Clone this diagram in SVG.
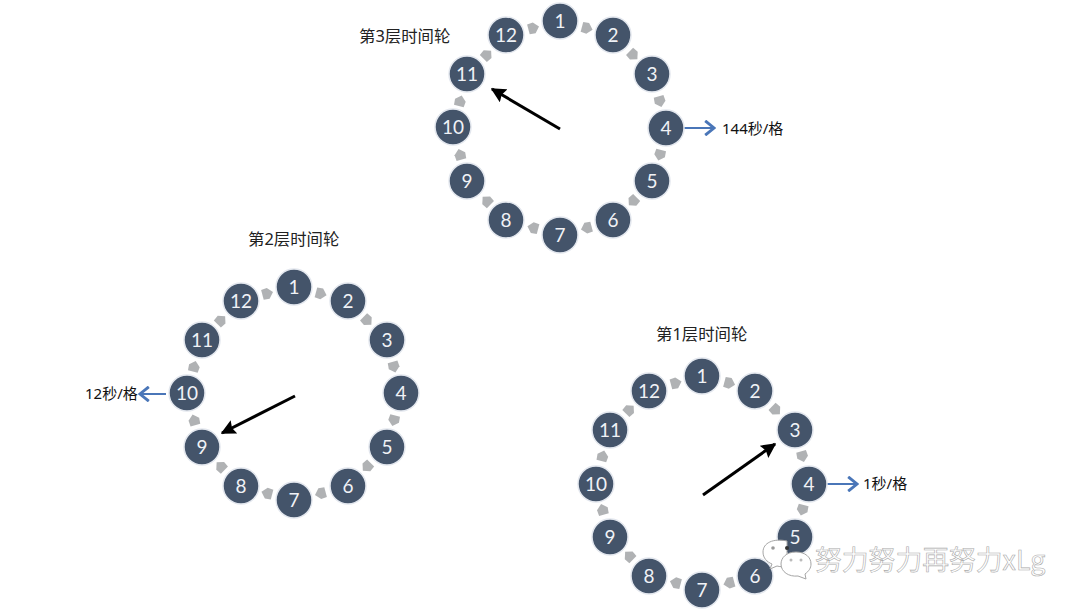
<svg xmlns="http://www.w3.org/2000/svg" xmlns:xlink="http://www.w3.org/1999/xlink" width="1080" height="611" viewBox="0 0 1080 611">
<style>
.n{fill:#44546a;stroke:#e3e7ee;stroke-width:1.500}
.t{fill:#f0f2f6;font:19px Lato,"Noto Sans",sans-serif;text-anchor:middle;dominant-baseline:central}
.l{fill:#111;font:15px "Noto Sans","Noto Sans CJK SC",sans-serif}
.c{fill:#222;font:16.4px "Noto Sans","Noto Sans CJK SC",sans-serif}
.h{stroke:#000;stroke-width:3;fill:none;marker-end:url(#bk)}
.b{stroke:#4a76b8;stroke-width:2;fill:none;marker-end:url(#bl)}
.wm{fill:#fff;stroke:#aaa;stroke-width:.6;font:26.800px "Noto Sans CJK SC","Noto Sans",sans-serif}
.bub{fill:#fff;stroke:#a5a5a5;stroke-width:1}
</style>
<defs>
<marker id="bk" viewBox="0 0 10 10" refX="9" refY="5" markerWidth="5" markerHeight="5" orient="auto"><path d="M0 0L10 5L0 10L1.500 5Z" fill="#000"/></marker>
<marker id="bl" viewBox="0 0 10 10" refX="9" refY="5" markerWidth="8" markerHeight="8" orient="auto"><path d="M3.500 0.500L9 5L3.500 9.500" fill="none" stroke="#4a76b8" stroke-width="1.800"/></marker>
<path id="a" d="M-5 -5L1 -5.500L6 0L1 5.500L-5 5Z" fill="#b0b2b4"/>
<g id="ring">
<use xlink:href="#a" href="#a" transform="rotate(15) translate(0,-103.4)"/>
<use xlink:href="#a" href="#a" transform="rotate(45) translate(0,-103.4)"/>
<use xlink:href="#a" href="#a" transform="rotate(75) translate(0,-103.4)"/>
<use xlink:href="#a" href="#a" transform="rotate(105) translate(0,-103.4)"/>
<use xlink:href="#a" href="#a" transform="rotate(135) translate(0,-103.4)"/>
<use xlink:href="#a" href="#a" transform="rotate(165) translate(0,-103.4)"/>
<use xlink:href="#a" href="#a" transform="rotate(195) translate(0,-103.4)"/>
<use xlink:href="#a" href="#a" transform="rotate(225) translate(0,-103.4)"/>
<use xlink:href="#a" href="#a" transform="rotate(255) translate(0,-103.4)"/>
<use xlink:href="#a" href="#a" transform="rotate(285) translate(0,-103.4)"/>
<use xlink:href="#a" href="#a" transform="rotate(315) translate(0,-103.4)"/>
<use xlink:href="#a" href="#a" transform="rotate(345) translate(0,-103.4)"/>
</g>
</defs>
<rect width="1080" height="611" fill="#fff"/>
<g id="connectors">
<use xlink:href="#ring" href="#ring" transform="translate(560,128)"/>
<use xlink:href="#ring" href="#ring" transform="translate(294,393.5)"/>
<use xlink:href="#ring" href="#ring" transform="translate(702.5,483)"/>
<line class="h" x1="560" y1="129" x2="492" y2="89"/>
<line class="h" x1="295" y1="396" x2="222" y2="433"/>
<line class="h" x1="703" y1="495" x2="775" y2="444"/>
<line class="b" x1="684" y1="128" x2="714" y2="128"/>
<line class="b" x1="166" y1="394" x2="140" y2="394"/>
<line class="b" x1="827" y1="484" x2="857" y2="484"/>
</g>
<g id="wheel3">
<g id="w3n1"><circle class="n" cx="560" cy="21" r="18"/><text class="t" x="560" y="20">1</text></g>
<g id="w3n2"><circle class="n" cx="613" cy="35" r="18"/><text class="t" x="613" y="34">2</text></g>
<g id="w3n3"><circle class="n" cx="652" cy="74" r="18"/><text class="t" x="652" y="73">3</text></g>
<g id="w3n4"><circle class="n" cx="666" cy="128" r="18"/><text class="t" x="666" y="127">4</text></g>
<g id="w3n5"><circle class="n" cx="652" cy="181" r="18"/><text class="t" x="652" y="180">5</text></g>
<g id="w3n6"><circle class="n" cx="613" cy="220" r="18"/><text class="t" x="613" y="219">6</text></g>
<g id="w3n7"><circle class="n" cx="560" cy="235" r="18"/><text class="t" x="560" y="234">7</text></g>
<g id="w3n8"><circle class="n" cx="506" cy="220" r="18"/><text class="t" x="506" y="219">8</text></g>
<g id="w3n9"><circle class="n" cx="467" cy="181" r="18"/><text class="t" x="467" y="180">9</text></g>
<g id="w3n10"><circle class="n" cx="453" cy="127" r="18"/><text class="t" x="453" y="126">10</text></g>
<g id="w3n11"><circle class="n" cx="467" cy="74" r="18"/><text class="t" x="467" y="73">11</text></g>
<g id="w3n12"><circle class="n" cx="506" cy="35" r="18"/><text class="t" x="506" y="34">12</text></g>
</g>
<g id="wheel2">
<g id="w2n1"><circle class="n" cx="294" cy="287" r="18"/><text class="t" x="294" y="286">1</text></g>
<g id="w2n2"><circle class="n" cx="348" cy="301" r="18"/><text class="t" x="348" y="300">2</text></g>
<g id="w2n3"><circle class="n" cx="387" cy="340" r="18"/><text class="t" x="387" y="339">3</text></g>
<g id="w2n4"><circle class="n" cx="401" cy="393" r="18"/><text class="t" x="401" y="392">4</text></g>
<g id="w2n5"><circle class="n" cx="387" cy="447" r="18"/><text class="t" x="387" y="446">5</text></g>
<g id="w2n6"><circle class="n" cx="348" cy="486" r="18"/><text class="t" x="348" y="485">6</text></g>
<g id="w2n7"><circle class="n" cx="294" cy="500" r="18"/><text class="t" x="294" y="499">7</text></g>
<g id="w2n8"><circle class="n" cx="241" cy="486" r="18"/><text class="t" x="241" y="485">8</text></g>
<g id="w2n9"><circle class="n" cx="202" cy="447" r="18"/><text class="t" x="202" y="446">9</text></g>
<g id="w2n10"><circle class="n" cx="187" cy="393" r="18"/><text class="t" x="187" y="392">10</text></g>
<g id="w2n11"><circle class="n" cx="202" cy="340" r="18"/><text class="t" x="202" y="339">11</text></g>
<g id="w2n12"><circle class="n" cx="241" cy="301" r="18"/><text class="t" x="241" y="300">12</text></g>
</g>
<g id="wheel1">
<g id="w1n1"><circle class="n" cx="702" cy="376" r="18"/><text class="t" x="702" y="375">1</text></g>
<g id="w1n2"><circle class="n" cx="755" cy="391" r="18"/><text class="t" x="755" y="390">2</text></g>
<g id="w1n3"><circle class="n" cx="795" cy="430" r="18"/><text class="t" x="795" y="429">3</text></g>
<g id="w1n4"><circle class="n" cx="809" cy="484" r="18"/><text class="t" x="809" y="483">4</text></g>
<g id="w1n5"><circle class="n" cx="795" cy="537" r="18"/><text class="t" x="795" y="536">5</text></g>
<g id="w1n6"><circle class="n" cx="755" cy="576" r="18"/><text class="t" x="755" y="575">6</text></g>
<g id="w1n7"><circle class="n" cx="702" cy="590" r="18"/><text class="t" x="702" y="589">7</text></g>
<g id="w1n8"><circle class="n" cx="649" cy="576" r="18"/><text class="t" x="649" y="575">8</text></g>
<g id="w1n9"><circle class="n" cx="610" cy="537" r="18"/><text class="t" x="610" y="536">9</text></g>
<g id="w1n10"><circle class="n" cx="596" cy="484" r="18"/><text class="t" x="596" y="483">10</text></g>
<g id="w1n11"><circle class="n" cx="610" cy="430" r="18"/><text class="t" x="610" y="429">11</text></g>
<g id="w1n12"><circle class="n" cx="649" cy="391" r="18"/><text class="t" x="649" y="390">12</text></g>
</g>
<g id="labels">
<text class="c" x="359" y="41.500">第3层时间轮</text>
<text class="c" x="248" y="244.500">第2层时间轮</text>
<text class="c" x="656" y="339.500">第1层时间轮</text>
<text class="l" x="722" y="133.500">144秒/格</text>
<text class="l" x="85" y="399">12秒/格</text>
<text class="l" x="863" y="489">1秒/格</text>
</g>
<g id="watermark">
<path class="bub" d="M787 541C773 538 763 543 763 552C763 558 767 562 772 564L770 569L777 566C781 567 784 567 787 566Z"/>
<circle cx="773" cy="548" r="1.800" fill="#999"/>
<circle cx="787" cy="548" r="2" fill="#333"/>
<path class="bub" d="M796 552C786 552 781 558 781 564C781 572 789 577 798 576L806 579L805 574C809 571 811 568 811 564C811 557 805 552 796 552Z"/>
<circle cx="791" cy="560" r="1.500" fill="#bbb"/>
<circle cx="801" cy="560" r="1.500" fill="#bbb"/>
<text class="wm" x="815" y="570">努力努力再努力xLg</text>
</g>
</svg>
